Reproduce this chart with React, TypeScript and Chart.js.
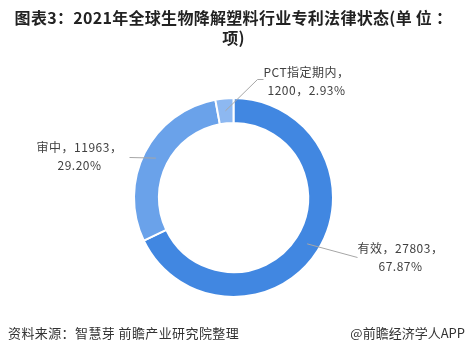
import React, { useEffect, useRef } from "react";
import { Chart, registerables } from "chart.js";

Chart.register(...registerables);

const categories = ["有效", "审中", "PCT指定期内"];
const counts = [27803, 11963, 1200];
const percents = ["67.87%", "29.20%", "2.93%"];
const colors = ["#4187e1", "#6aa2ea", "#8db8f1"];

// label layout (offsets from the doughnut centre, px); split: where the label wraps
const labelLayout = [
  { elbow: [124, 60], end: [124, 60], text: [167, 60], split: 2 },
  { elbow: [-104, -40], end: [-104, -40], text: [-154, -41], split: 2 },
  { elbow: [24, -118], end: [30, -118], text: [73, -116], split: 1 },
];

const FONT = '"Noto Sans CJK SC", "Noto Sans", sans-serif';

const labelPlugin = {
  id: "sliceLabels",
  afterDatasetsDraw(chart: any) {
    const ctx = chart.ctx;
    const meta = chart.getDatasetMeta(0);
    meta.data.forEach((arc: any, i: number) => {
      const p = arc.getProps(["x", "y", "startAngle", "endAngle", "innerRadius", "outerRadius"], true);
      const mid = (p.startAngle + p.endAngle) / 2;
      const r = (p.innerRadius + p.outerRadius) / 2;
      const sx = p.x + Math.cos(mid) * r;
      const sy = p.y + Math.sin(mid) * r;
      const L = labelLayout[i];
      ctx.save();
      ctx.strokeStyle = "#a6a6a6";
      ctx.lineWidth = 1;
      ctx.beginPath();
      ctx.moveTo(sx, sy);
      ctx.lineTo(p.x + L.elbow[0], p.y + L.elbow[1]);
      ctx.lineTo(p.x + L.end[0], p.y + L.end[1]);
      ctx.stroke();
      ctx.fillStyle = "#404040";
      ctx.font = "12px " + FONT;
      (ctx as any).letterSpacing = "0.5px";
      ctx.textAlign = "center";
      ctx.textBaseline = "middle";
      const tx = p.x + L.text[0];
      const ty = p.y + L.text[1];
      const parts = [categories[i], String(counts[i]), percents[i]];
      const line1 = parts.slice(0, L.split).join("，") + "，";
      const line2 = parts.slice(L.split).join("，");
      ctx.fillText(line1, tx, ty - 9);
      ctx.fillText(line2, tx, ty + 9);
      ctx.restore();
    });
  },
};

export default function App() {
  const ref = useRef<HTMLCanvasElement>(null);
  useEffect(() => {
    if (!ref.current) return;
    const chart = new Chart(ref.current, {
      type: "doughnut",
      data: {
        labels: categories,
        datasets: [
          {
            data: counts,
            backgroundColor: colors,
            borderColor: "#ffffff",
            borderWidth: 2,
          },
        ],
      },
      options: {
        responsive: false,
        animation: false,
        cutout: "75%",
        layout: { padding: { top: 97, bottom: 54, left: 120, right: 120 } },
        plugins: { legend: { display: false }, tooltip: { enabled: false }, title: { display: false } },
      },
      plugins: [labelPlugin],
    });
    return () => chart.destroy();
  }, []);

  return (
    <div style={{ position: "fixed", left: 0, top: 0, width: 467, height: 352, background: "#fff", overflow: "hidden" }}>
      <canvas ref={ref} width={467} height={352} style={{ position: "absolute", left: 0, top: 0 }} />
      <div
        style={{
          position: "absolute",
          left: 0,
          top: 7,
          width: 467,
          textAlign: "center",
          fontFamily: FONT,
          fontWeight: "bold",
          fontSize: 16,
          lineHeight: "20px",
          letterSpacing: 0.3,
          color: "#222",
        }}
      >
        图表3：2021年全球生物降解塑料行业专利法律状态(单 位 ：
        <br />
        项)
      </div>
      <div style={{ position: "absolute", left: 8, top: 323, fontFamily: FONT, fontSize: 13, color: "#333", letterSpacing: 0.4 }}>
        资料来源：智慧芽 前瞻产业研究院整理
      </div>
      <div style={{ position: "absolute", right: 2, top: 323, fontFamily: FONT, fontSize: 13, color: "#333" }}>
        @前瞻经济学人APP
      </div>
    </div>
  );
}
